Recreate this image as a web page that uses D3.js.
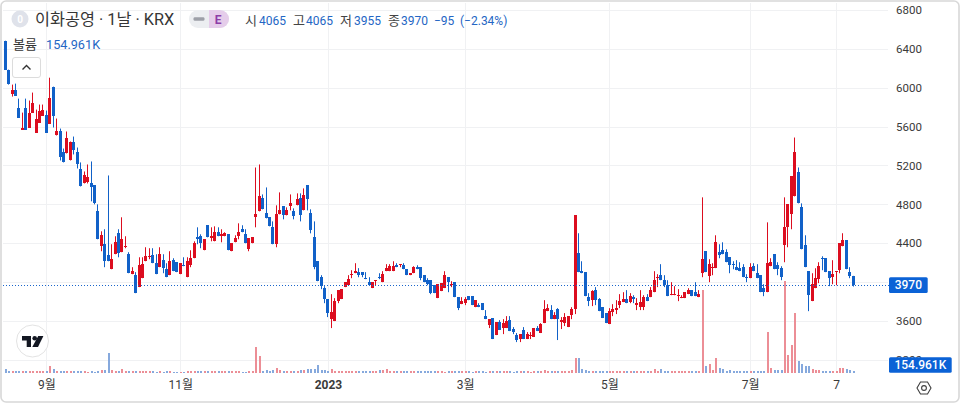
<!DOCTYPE html>
<html lang="ko">
<head>
<meta charset="utf-8">
<title>이화공영 · 1날 · KRX</title>
<script src="https://cdn.jsdelivr.net/npm/d3@7"></script>
<style>
html,body{margin:0;padding:0;background:#fff;overflow:hidden}
svg{display:block}
text{font-family:Roboto,"Noto Sans CJK KR",sans-serif}
</style>
</head>
<body>
<svg id="c" width="960" height="404"></svg>
<script>
const opens=[
6482,6185,5938,5979,5795,5569,5795,5590,5743,5538,
5641,5713,5723,5631,6010,5508,5549,5343,5323,5261,
5446,5343,5159,5015,5025,5015,4995,4728,4369,4390,
4277,4133,4287,4503,4308,4359,4287,4082,4072,3949,
4041,4215,4256,4277,4195,4154,4226,4133,4072,4226,
4205,4082,4174,4051,4174,4246,4461,4472,4328,4585,
4451,4420,4513,4472,4472,4492,4318,4410,4472,4544,
4492,4338,4400,4667,4728,4861,4708,4667,4564,4390,
4697,4779,4687,4779,4728,4790,4861,4738,4995,4708,
4461,4215,4051,3938,3825,3620,3600,3805,3826,3949,
3969,4072,4092,4103,4103,4041,4000,3939,4010,4051,
4000,4113,4113,4113,4174,4174,4174,4133,4072,4092,
4154,4154,4072,4020,4020,3969,3836,3908,3939,4051,
3969,4000,3846,3774,3784,3856,3856,3743,3764,3784,
3651,3559,3630,3456,3590,3528,3528,3610,3518,3456,
3415,3508,3415,3446,3436,3528,3477,3579,3702,3713,
3620,3723,3590,3579,3538,3661,3723,4297,4113,4103,
3846,3815,3918,3825,3743,3682,3569,3692,3713,3764,
3795,3825,3795,3846,3764,3743,3743,3846,3846,3897,
4041,4072,4020,3969,3866,3866,3856,3836,3836,3877,
3918,3897,3846,4092,4318,4062,4144,4144,4308,4328,
4308,4256,4185,4154,4144,4154,4051,4041,4164,4092,
4072,3938,3897,4164,4287,4174,4144,4379,4564,4697,
4882,5128,4769,4379,4113,3805,3938,4031,4246,4246,
4113,4051,4103,4123,4369,4431,4103,4065];
const highs=[
6482,6185,6031,6041,5887,5743,5887,5867,5949,5774,
5826,5826,5764,6102,6010,5682,5579,5374,5549,5446,
5497,5384,5231,5138,5210,5241,4995,4800,4523,4544,
5097,4390,4472,4544,4667,4472,4308,4154,4103,4256,
4256,4359,4349,4349,4287,4359,4287,4195,4318,4246,
4205,4195,4256,4256,4328,4420,4564,4492,4441,4585,
4564,4574,4564,4544,4513,4492,4400,4482,4605,4585,
4544,4451,4461,5179,5210,4902,4974,4667,4625,4790,
4923,4779,4769,4902,4759,4913,4913,4964,4995,4749,
4625,4215,4072,3959,3825,3877,3836,3918,3928,4000,
4072,4123,4195,4144,4103,4103,4051,4000,4020,4092,
4113,4185,4185,4215,4195,4185,4195,4133,4092,4164,
4174,4154,4072,4041,4020,3969,3979,3990,4113,4051,
4010,4000,3846,3846,3846,3856,3856,3815,3784,3784,
3713,3620,3630,3590,3610,3620,3651,3651,3538,3477,
3466,3538,3487,3487,3528,3549,3579,3815,3774,3764,
3692,3733,3641,3682,3651,3743,4687,4503,4215,4103,
3887,3918,3949,3836,3743,3682,3733,3774,3815,3877,
3897,3918,3887,3866,3836,3918,3866,3877,3949,4113,
4082,4185,4072,4020,4000,3959,3928,3866,3897,3938,
3918,4000,3918,4872,4318,4236,4195,4482,4390,4410,
4338,4256,4215,4226,4205,4185,4082,4195,4195,4185,
4072,3979,4615,4246,4287,4205,4164,4872,4800,5087,
5487,5179,4810,4482,4113,4092,4143,4205,4266,4246,
4113,4226,4113,4400,4503,4431,4154,4065];
const lows=[
6185,6031,5908,5918,5692,5569,5569,5590,5743,5538,
5641,5713,5538,5631,5590,5508,5251,5231,5323,5251,
5313,5169,4984,5015,5015,4831,4800,4441,4318,4154,
4215,4133,4287,4256,4308,4349,4092,4082,3887,3949,
4041,4215,4236,4195,4082,4154,4092,4051,4072,4113,
4103,4082,4164,4051,4154,4246,4390,4349,4328,4461,
4420,4420,4472,4410,4472,4328,4318,4410,4441,4513,
4400,4318,4400,4564,4728,4749,4656,4574,4390,4359,
4697,4646,4687,4738,4646,4790,4625,4738,4738,4502,
4133,4010,3928,3784,3641,3528,3600,3784,3826,3949,
3969,4041,4092,4051,4051,4031,3969,3939,3969,4031,
4000,4113,4113,4113,4154,4154,4133,4072,4072,4092,
4133,4020,4000,3969,3877,3887,3836,3908,3939,3897,
3949,3846,3713,3774,3764,3815,3764,3743,3743,3713,
3620,3528,3415,3456,3508,3466,3528,3497,3466,3384,
3384,3415,3415,3415,3436,3497,3477,3579,3702,3620,
3620,3405,3518,3549,3538,3620,3672,4103,4092,3856,
3754,3754,3764,3702,3631,3579,3569,3651,3672,3733,
3795,3784,3784,3784,3713,3713,3713,3805,3846,3897,
3949,4020,3949,3856,3866,3866,3805,3836,3836,3877,
3856,3856,3846,4051,4103,4000,4072,4144,4246,4287,
4205,4092,4133,4123,4113,4051,4000,4041,4113,4041,
3897,3856,3897,4164,4133,4072,4020,4205,4359,4544,
4882,4810,4338,4154,3702,3805,3938,3990,4123,4103,
3959,3979,3969,4092,4369,4133,4041,3955];
const closes=[
6185,6041,5979,5918,5692,5590,5569,5743,5846,5682,
5764,5774,5538,5897,5713,5559,5282,5231,5487,5446,
5354,5210,4984,5097,5077,4974,4810,4441,4482,4215,
4215,4236,4410,4297,4441,4369,4092,4113,3887,4174,
4185,4267,4267,4195,4082,4287,4144,4051,4215,4113,
4103,4195,4164,4215,4246,4400,4441,4400,4441,4461,
4472,4513,4472,4492,4503,4328,4400,4451,4513,4513,
4400,4451,4461,4697,4882,4749,4656,4574,4390,4697,
4738,4687,4738,4810,4677,4851,4687,4892,4851,4533,
4154,4010,3959,3825,3682,3692,3805,3918,3928,4000,
4031,4082,4113,4072,4072,4031,3969,4000,4020,4041,
4082,4144,4164,4164,4154,4185,4133,4072,4092,4154,
4133,4041,4000,3979,3887,3887,3979,3990,4072,4000,
3979,3846,3733,3805,3825,3815,3764,3815,3743,3713,
3620,3620,3415,3590,3508,3579,3600,3497,3487,3405,
3466,3415,3466,3456,3528,3497,3569,3723,3733,3620,
3661,3620,3610,3641,3651,3723,4687,4103,4092,3856,
3805,3908,3815,3702,3631,3579,3702,3723,3733,3805,
3825,3784,3856,3825,3784,3795,3846,3805,3918,4020,
4051,4020,3969,3856,3877,3877,3866,3846,3897,3918,
3856,3856,3877,4236,4103,4185,4154,4410,4277,4287,
4205,4174,4174,4123,4113,4051,4041,4154,4113,4041,
3897,3897,4195,4205,4133,4133,4051,4564,4800,5087,
5343,4810,4338,4154,3866,3979,4041,4164,4236,4103,
4041,4082,4113,4400,4431,4133,4065,3970];
const volumesK=[
330,150,130,170,140,130,150,170,150,140,
150,170,180,670,330,170,140,140,160,150,
170,150,180,140,120,130,120,170,250,260,
2000,280,200,170,370,150,180,170,150,170,
160,170,150,130,120,130,120,140,130,120,
110,110,120,190,200,170,200,200,130,160,
150,170,160,170,150,150,140,130,150,120,
120,130,210,2570,1700,170,300,200,290,470,
300,150,130,150,170,200,270,300,340,340,
350,770,290,250,200,370,220,210,200,190,
180,170,190,200,150,140,130,150,130,270,
270,370,190,160,180,130,170,140,130,160,
140,130,170,150,140,130,150,140,120,140,
130,160,130,150,170,150,120,130,140,140,
120,130,150,130,140,170,150,130,120,150,
130,140,150,120,130,140,150,270,150,130,
140,170,130,180,220,280,1500,1430,330,300,
160,150,130,160,140,150,140,130,170,160,
150,140,130,150,140,150,130,140,170,370,
180,350,170,180,130,140,150,160,130,150,
140,150,160,8300,670,870,270,1500,430,370,
200,240,180,200,190,180,170,160,180,190,
160,180,4100,430,270,230,230,9200,1770,2770,
6000,1170,870,670,670,400,300,300,200,200,
170,160,170,430,430,350,250,154.961];
const gridPriceTicks=[6800,6400,6000,5600,5200,4800,4400,4000,3600,3200];
const axisPriceTicks=[6800,6400,6000,5600,5200,4800,4400,3600,3200];
const timeTickIndex=[12,51,94,134,176,217,242];
const timeTickLabels=["9월","11월","2023","3월","5월","7월","7"];
const quote={title:"이화공영 · 1날 · KRX",openLabel:"시",highLabel:"고",lowLabel:"저",closeLabel:"종",volLabel:"볼륨"};

const UP="#dc0d1f",DOWN="#1161c8",UPV="#ec8e96",DOWNV="#86a9dd",TXT="#3a3a3a",BLUE="#2466c4",GRID="#f0f1f3";
const n=closes.length,last=n-1;
const svg=d3.select("#c");
const x=d3.scaleLinear().domain([0,last]).range([5.2,853.2]);
const y=d3.scaleLinear().domain([6800,3200]).range([9.8,360]);
const yv=d3.scaleLinear().domain([0,9200]).range([372.7,281]);
const idx=d3.range(n);
const isUp=i=>closes[i]>=opens[i];
const px=i=>Math.floor(x(i));

const grid=svg.append("g");
grid.selectAll(".h").data(gridPriceTicks).join("line").attr("x1",3).attr("x2",888)
  .attr("y1",d=>Math.round(y(d))+.5).attr("y2",d=>Math.round(y(d))+.5).attr("stroke",GRID);
grid.selectAll(".v").data(timeTickIndex).join("line").attr("y1",3).attr("y2",373)
  .attr("x1",d=>Math.round(x(d))+.5).attr("x2",d=>Math.round(x(d))+.5).attr("stroke",GRID);

svg.append("g").selectAll("rect").data(idx).join("rect")
  .attr("x",i=>px(i)).attr("width",2)
  .attr("y",i=>Math.round(yv(volumesK[i]))).attr("height",i=>Math.max(1,373-Math.round(yv(volumesK[i]))))
  .attr("fill",i=>isUp(i)?UPV:DOWNV);

const candles=svg.append("g");
candles.selectAll("line").data(idx).join("line")
  .attr("x1",i=>px(i)+.5).attr("x2",i=>px(i)+.5).attr("y1",i=>y(highs[i])).attr("y2",i=>y(lows[i]))
  .attr("stroke",i=>isUp(i)?UP:DOWN).attr("stroke-width",1);
candles.selectAll("rect").data(idx).join("rect")
  .attr("x",i=>px(i)-1).attr("width",3)
  .attr("y",i=>Math.round(y(Math.max(opens[i],closes[i]))))
  .attr("height",i=>Math.max(1,Math.round(y(Math.min(opens[i],closes[i])))-Math.round(y(Math.max(opens[i],closes[i])))))
  .attr("fill",i=>isUp(i)?UP:DOWN);

const yLast=y(closes[last]);
svg.append("line").attr("x1",3).attr("x2",889).attr("y1",Math.round(yLast)+.5).attr("y2",Math.round(yLast)+.5)
  .attr("stroke","#1a66cc").attr("stroke-dasharray","1 2");

const yAxis=d3.axisRight(y).tickValues(axisPriceTicks).tickSize(0).tickPadding(0).tickFormat(d3.format("d"));
const gy=svg.append("g").attr("transform","translate(896,0)").call(yAxis);
gy.select(".domain").remove();
gy.selectAll("text").attr("fill",TXT).style("font-size","11.5px");

const xAxis=d3.axisBottom(x).tickValues(timeTickIndex).tickSize(0).tickPadding(0)
  .tickFormat((d,i)=>timeTickLabels[i]);
const gx=svg.append("g").attr("transform","translate(0,380)").call(xAxis);
gx.select(".domain").remove();
gx.selectAll("text").attr("fill",TXT).style("font-size","12px")
  .style("font-weight",(d,i)=>timeTickLabels[i]==="2023"?"700":"400");

function flag(x0,w,yc,h,label,size){
  const g=svg.append("g");
  g.append("rect").attr("x",x0).attr("y",yc-h/2).attr("width",w).attr("height",h).attr("rx",1.5).attr("fill","#0b62d6");
  g.append("text").attr("x",x0+w/2).attr("y",yc+4).attr("text-anchor","middle").attr("fill","#fff")
    .style("font-size",size+"px").style("font-weight",500).text(label);
}
flag(889,38.7,yLast,15.6,String(closes[last]),12);
flag(889,62.7,365,15.6,d3.format(".3f")(volumesK[last])+"K",12);

const chg=closes[last]-closes[last-1];
const legend=svg.append("g");
function t(xp,yp,str,fill,size){legend.append("text").attr("x",xp).attr("y",yp).attr("fill",fill).style("font-size",size+"px").text(str);}
legend.append("circle").attr("cx",20).attr("cy",19).attr("r",8.5).attr("fill","#dfe2ea");
legend.append("text").attr("x",20).attr("y",22.5).attr("text-anchor","middle").attr("fill","#fff").style("font-size","10px").style("font-weight",700).text("0");
t(35,25,quote.title,"#363636",16.3);
legend.append("rect").attr("x",189).attr("y",10).attr("width",40).attr("height",18).attr("rx",9).attr("fill","#eceef1");
legend.append("rect").attr("x",193.5).attr("y",17.2).attr("width",11).attr("height",3.6).attr("rx",1.4).attr("fill","#9da0a8");
legend.append("path").attr("d","M209,10h11a9,9 0 0 1 0,18h-11z").attr("fill","#e5cdea");
legend.append("text").attr("x",218).attr("y",23.5).attr("text-anchor","middle").attr("fill","#8d3da8").style("font-size","12px").style("font-weight",700).text("E");
const ql=[[245,quote.openLabel,259,opens[last]],[293,quote.highLabel,306,highs[last]],[340,quote.lowLabel,354,lows[last]],[388,quote.closeLabel,401,closes[last]]];
ql.forEach(([a,l,b,v])=>{t(a,25,l,"#444",13);t(b,25,String(v),BLUE,12);});
t(434,25,"−"+Math.abs(chg),BLUE,12);
t(460,25,"(−"+(Math.abs(chg)/closes[last-1]*100).toFixed(2)+"%)",BLUE,12);
t(13,49,quote.volLabel,"#333",13);
t(46,49,d3.format(".3f")(volumesK[last])+"K",BLUE,12.7);
legend.append("rect").attr("x",12.5).attr("y",57.5).attr("width",28).attr("height",20).attr("rx",2.5).attr("fill","#fff").attr("stroke","#dcdcdc");
legend.append("path").attr("d","M22.5,69.5L26.5,65.5L30.5,69.5").attr("fill","none").attr("stroke","#333").attr("stroke-width",1.4);

const logo=svg.append("g");
logo.append("circle").attr("cx",32.5).attr("cy",341).attr("r",16).attr("fill","#fff").attr("stroke","#e3e3e3");
logo.append("path").attr("fill","#131722").attr("d","M22,336h9v11h-4.3v-6.4H22z");
logo.append("circle").attr("cx",34.7).attr("cy",338.3).attr("r",2.3).attr("fill","#131722");
logo.append("path").attr("fill","#131722").attr("d","M38.2,336h5.2l-5.4,11h-5.7z");

const sett=svg.append("g").attr("fill","none").attr("stroke","#3f3f3f").attr("stroke-width",1.1);
sett.append("path").attr("d",d3.range(6).map(k=>{const a=k*Math.PI/3;return (k?"L":"M")+(924+7*Math.cos(a)).toFixed(2)+","+(388+7*Math.sin(a)).toFixed(2);}).join("")+"Z");
sett.append("circle").attr("cx",924).attr("cy",388).attr("r",2.4);

svg.append("rect").attr("x",1).attr("y",1).attr("width",958).attr("height",401).attr("rx",5).attr("fill","none").attr("stroke","#d8d8d8").attr("stroke-width",1.6);
</script>
</body>
</html>
